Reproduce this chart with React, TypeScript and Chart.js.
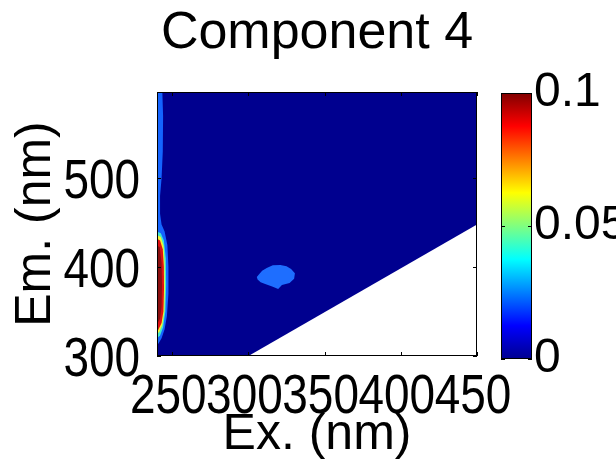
import React, { useEffect, useRef } from 'react';
import { Chart, registerables } from 'chart.js';

Chart.register(...registerables);

// ---- data ----
const chartTitle = 'Component 4';
const xTitle = 'Ex. (nm)';
const yTitle = 'Em. (nm)';
const xTicks = [250, 300, 350, 400, 450];
const yTicks = [300, 400, 500];
const colorTicks = [0, 0.05, 0.1];
const exRange = [240, 450];
const emRange = [300, 597];
const colorRange = [0, 0.1];

// contour regions, [Ex, Em] vertices
const measuredRegion = [[240, 300], [300, 300], [450, 448], [450, 597], [240, 597]];
const edgeLevel1 = [[240, 597], [243.5, 597], [244, 570], [243.8, 530], [243, 500], [242, 480], [242, 460], [243, 448], [245, 440], [246.8, 425], [247.5, 400], [247.5, 370], [246.5, 345], [245, 330], [243, 320], [241, 314], [240, 313]];
const edgeLevel2 = [[240, 440], [242.5, 438], [244.5, 430], [245.8, 410], [246, 380], [245.5, 350], [244, 332], [242, 323], [240, 320]];
const edgeLevel3 = [[240, 436], [242.5, 434], [244.3, 424], [245, 405], [245.2, 375], [244.8, 350], [243.5, 335], [241.5, 327], [240, 325]];
const edgeLevel4 = [[240, 432], [242, 430], [243.8, 420], [244.5, 400], [244.6, 375], [244.2, 350], [243, 337], [241, 330], [240, 328]];
const edgeLevel5 = [[240, 425], [241.8, 422], [243, 405], [243.3, 380], [243, 355], [242, 342], [240, 336]];
const peakLevel1 = [[305.5, 389], [307, 392], [309, 396], [312, 399], [316, 402], [321, 402.5], [325, 401], [328, 398], [330.5, 393], [330, 387], [327, 382], [322, 380], [319.5, 375.5], [316, 378], [311, 381], [308, 383], [306, 386]];

const regionColors = ['#00008F', '#1464FF', '#40E8D0', '#F5F530', '#E01010', '#8B0F0F', '#1E6EFF'];
const jetStops: [number, string][] = [
  [0, '#00008F'], [0.125, '#0000FF'], [0.375, '#00FFFF'], [0.625, '#FFFF00'], [0.875, '#FF0000'], [1, '#800000'],
];

const regions = [measuredRegion, edgeLevel1, edgeLevel2, edgeLevel3, edgeLevel4, edgeLevel5, peakLevel1];

const textFamily = '"Liberation Sans", Arial, sans-serif';
const tickSize = 56;
const tickStretch = 0.82; // condensed tick lettering

const polygonFill = {
  id: 'polygonFill',
  beforeDatasetsDraw(chart: any) {
    const { ctx, chartArea } = chart;
    ctx.save();
    ctx.beginPath();
    ctx.rect(chartArea.left, chartArea.top, chartArea.width, chartArea.height);
    ctx.clip();
    chart.data.datasets.forEach((ds: any, i: number) => {
      if (!ds.polyColor) return;
      const pts = chart.getDatasetMeta(i).data;
      ctx.beginPath();
      pts.forEach((p: any, j: number) => (j ? ctx.lineTo(p.x, p.y) : ctx.moveTo(p.x, p.y)));
      ctx.closePath();
      ctx.fillStyle = ds.polyColor;
      ctx.fill();
    });
    ctx.restore();
  },
};

const boxTicks = {
  id: 'boxTicks',
  afterDraw(chart: any) {
    const { ctx, chartArea: a, scales } = chart;
    ctx.save();
    ctx.strokeStyle = '#000';
    ctx.lineWidth = 1;
    ctx.strokeRect(Math.round(a.left) + 0.5, Math.round(a.top) + 0.5, Math.round(a.width) - 1, Math.round(a.height) - 1);
    const len = 4;
    ctx.beginPath();
    const xs = scales.x;
    if (xs && xs.options.display !== false && xs.type === 'linear') {
      xs.ticks.forEach((t: any) => {
        const px = Math.round(xs.getPixelForValue(t.value)) + 0.5;
        ctx.moveTo(px, a.bottom); ctx.lineTo(px, a.bottom - len);
        ctx.moveTo(px, a.top); ctx.lineTo(px, a.top + len);
      });
    }
    const ys = scales.y;
    if (ys) {
      ys.ticks.forEach((t: any) => {
        const py = Math.round(ys.getPixelForValue(t.value)) + 0.5;
        ctx.moveTo(a.left, py); ctx.lineTo(a.left + len, py);
        ctx.moveTo(a.right, py); ctx.lineTo(a.right - len, py);
      });
    }
    ctx.stroke();
    ctx.restore();
  },
};

// tick labels in condensed lettering, placed through the scales
const condensedTickLabels = {
  id: 'condensedTickLabels',
  afterDraw(chart: any) {
    const { ctx, chartArea: a, scales } = chart;
    const cap = tickSize * 0.716;
    ctx.save();
    ctx.fillStyle = '#000';
    ctx.font = `${tickSize}px ${textFamily}`;
    ctx.textBaseline = 'alphabetic';
    const xs = scales.x;
    ctx.textAlign = 'center';
    xs.ticks.forEach((t: any) => {
      const px = xs.getPixelForValue(t.value) - 4;
      ctx.save();
      ctx.translate(px, a.bottom + 57);
      ctx.scale(tickStretch, 1);
      ctx.fillText(String(t.value), 0, 0);
      ctx.restore();
    });
    const ys = scales.y;
    ctx.textAlign = 'right';
    ys.ticks.forEach((t: any) => {
      const py = ys.getPixelForValue(t.value);
      ctx.save();
      ctx.translate(a.left - 17, py + cap / 2);
      ctx.scale(tickStretch, 1);
      ctx.fillText(String(t.value), 0, 0);
      ctx.restore();
    });
    ctx.restore();
  },
};

export default function App() {
  const mainRef = useRef<HTMLCanvasElement>(null);
  const barRef = useRef<HTMLCanvasElement>(null);

  useEffect(() => {
    const datasets = regions.map((pts, i) => ({
      data: pts.map(([x, y]) => ({ x, y })),
      polyColor: regionColors[i],
      pointRadius: 0,
      showLine: false,
    }));
    const main = new Chart(mainRef.current!, {
      type: 'scatter',
      data: { datasets },
      plugins: [polygonFill, boxTicks, condensedTickLabels],
      options: {
        responsive: false,
        animation: false,
        events: [],
        layout: { padding: { left: 0, right: 139, top: 0, bottom: 0 } },
        plugins: {
          legend: { display: false },
          tooltip: { enabled: false },
          title: {
            display: true,
            text: chartTitle,
            fullSize: false,
            color: '#000',
            font: { family: textFamily, size: 52, weight: 'normal', lineHeight: 1 },
            padding: { top: 8, bottom: 32 },
          },
        },
        scales: {
          x: {
            type: 'linear',
            min: exRange[0],
            max: exRange[1],
            afterBuildTicks: (s: any) => { s.ticks = xTicks.map((v) => ({ value: v })); },
            afterFit: (s: any) => { s.height = 109; },
            grid: { display: false, drawTicks: false },
            border: { display: false },
            ticks: { display: false, autoSkip: false, maxRotation: 0, minRotation: 0 },
            title: {
              display: true, text: xTitle, color: '#000',
              font: { family: textFamily, size: 50 }, padding: { top: 0, bottom: 0 },
            },
          },
          y: {
            type: 'linear',
            min: emRange[0],
            max: emRange[1],
            afterBuildTicks: (s: any) => { s.ticks = yTicks.map((v) => ({ value: v })); },
            afterFit: (s: any) => { s.width = 157; },
            grid: { display: false, drawTicks: false },
            border: { display: false },
            ticks: { display: false, autoSkip: false },
            title: {
              display: true, text: yTitle, color: '#000',
              font: { family: textFamily, size: 50 }, padding: { top: 6, bottom: 0 },
            },
          },
        },
      } as any,
    });

    const bar = new Chart(barRef.current!, {
      type: 'bar',
      data: {
        labels: [''],
        datasets: [{
          data: [colorRange[1]],
          borderWidth: 0,
          categoryPercentage: 1,
          barPercentage: 1,
          backgroundColor: (c: any) => {
            const area = c.chart.chartArea;
            if (!area) return jetStops[0][1];
            const g = c.chart.ctx.createLinearGradient(0, area.bottom, 0, area.top);
            jetStops.forEach(([o, col]) => g.addColorStop(o, col));
            return g;
          },
        }],
      },
      plugins: [boxTicks],
      options: {
        responsive: false,
        animation: false,
        events: [],
        layout: { padding: { left: 21, right: 0, top: 93, bottom: 106 } },
        plugins: { legend: { display: false }, tooltip: { enabled: false }, title: { display: false } },
        scales: {
          x: { display: false },
          y: {
            position: 'right',
            min: colorRange[0],
            max: colorRange[1],
            afterBuildTicks: (s: any) => { s.ticks = colorTicks.map((v) => ({ value: v })); },
            afterFit: (s: any) => { s.width = 84; },
            grid: { display: false, drawTicks: false },
            border: { display: false },
            ticks: {
              padding: 2, color: '#000',
              font: { family: textFamily, size: 48 },
              callback: (v: any) => String(v),
            },
          },
        },
      } as any,
    });

    return () => { main.destroy(); bar.destroy(); };
  }, []);

  return (
    <div style={{ position: 'fixed', left: 0, top: 0, width: 616, height: 465, background: '#fff', overflow: 'hidden' }}>
      <canvas ref={mainRef} width={616} height={465} style={{ position: 'absolute', left: 0, top: 0 }} />
      <canvas ref={barRef} width={136} height={465} style={{ position: 'absolute', left: 480, top: 0 }} />
    </div>
  );
}
